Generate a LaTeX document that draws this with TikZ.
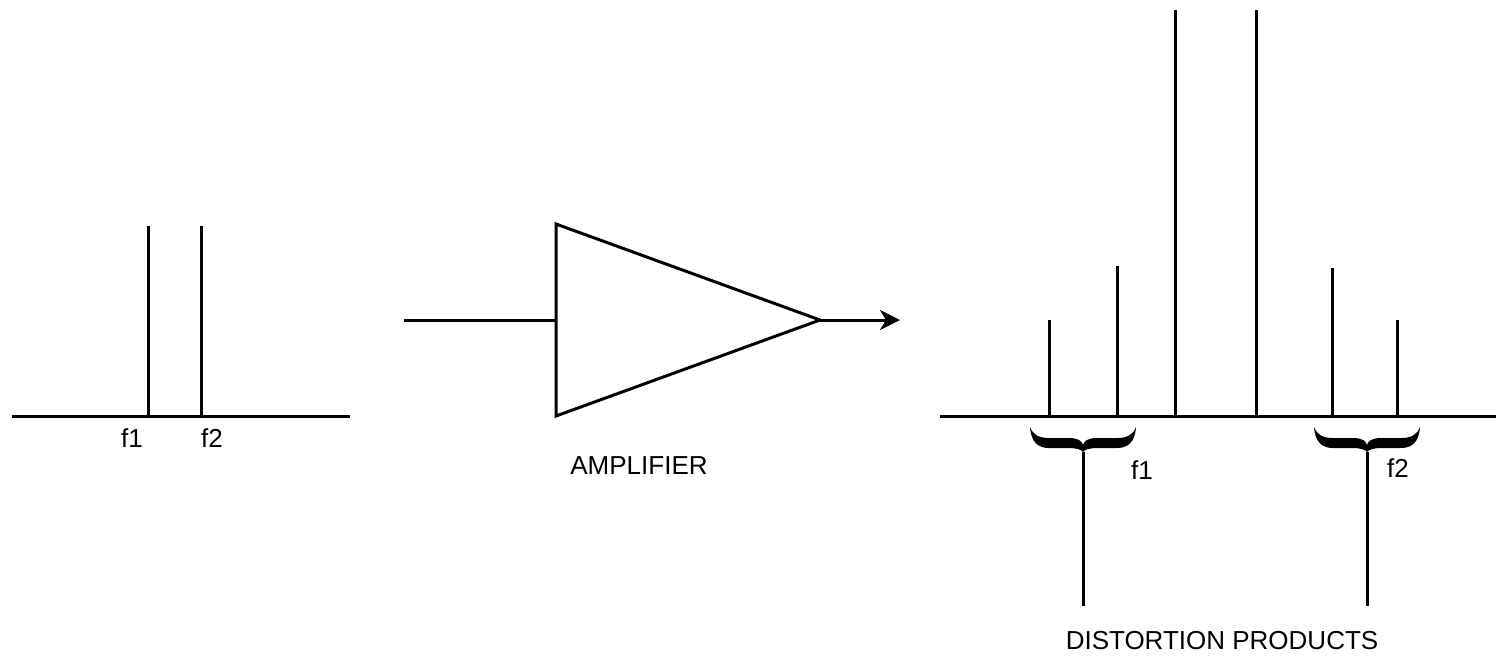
\documentclass[tikz,border=0pt]{standalone}
\usepackage{fontspec}
\setmainfont{Liberation Sans}
\usetikzlibrary{arrows.meta}
\tikzset{
  wire/.style={line width=3pt, line cap=butt},
  lbl/.style={inner sep=0pt, font=\fontsize{26}{30}\selectfont},
  pics/bigbrace/.style={code={
    \fill[black]
      (-53,-25) .. controls (-52,-10) and (-45,-4) .. (-34,-4)
      -- (-14,-4) .. controls (-6,-4) and (-1,-2) .. (0,0)
      .. controls (1,-2) and (6,-4) .. (14,-4)
      -- (34,-4) .. controls (45,-4) and (52,-10) .. (53,-25)
      .. controls (50,-17) and (44,-14) .. (34,-14)
      -- (14,-14) .. controls (5,-14) and (1,-11) .. (0,-7)
      .. controls (-1,-11) and (-5,-14) .. (-14,-14)
      -- (-34,-14) .. controls (-44,-14) and (-50,-17) .. (-53,-25) -- cycle;
  }}
}
\begin{document}
\begin{tikzpicture}[x=1pt, y=-1pt]
  \useasboundingbox (0,0) rectangle (1496,657);

  % input spectrum
  \coordinate (inL) at (12,416);
  \coordinate (inR) at (350,416);
  \coordinate (a1b) at (148,416);  \coordinate (a1t) at (148,226);
  \coordinate (a2b) at (201,416);  \coordinate (a2t) at (201,226);
  \draw[wire] (inL) -- (inR);
  \draw[wire] (a1b) -- (a1t);
  \draw[wire] (a2b) -- (a2t);
  \node[lbl] (f1in) at (132,438) {f1};
  \node[lbl] (f2in) at (212,438) {f2};

  % amplifier
  \coordinate (tA) at (556,224);
  \coordinate (tB) at (556,416);
  \coordinate (tC) at (820,320);
  \coordinate (tIn) at (556,320);
  \coordinate (src) at (404,320);
  \coordinate (dst) at (900,320);
  \draw[wire, line join=miter] (tA) -- (tC) -- (tB) -- cycle;
  \draw[wire] (src) -- (tIn);
  \draw[wire, -{Stealth[length=20pt, width=20pt, inset=6pt]}] (tC) -- (dst);
  \node[lbl] (amp) at (639,466) {AMPLIFIER};

  % output spectrum
  \coordinate (outL) at (940,416);
  \coordinate (outR) at (1496,416);
  \draw[wire] (outL) -- (outR);
  \foreach \n/\x/\y in {b1/1049/320, b2/1117/266, b3/1175/10,
                        b4/1256/10, b5/1332/268, b6/1397/320} {
    \coordinate (\n b) at (\x,416);
    \coordinate (\n t) at (\x,\y);
    \draw[wire] (\n b) -- (\n t);
  }

  % distortion product groups
  \coordinate (g1) at (1083,452);
  \coordinate (g1e) at (1083,606);
  \coordinate (g2) at (1367,452);
  \coordinate (g2e) at (1367,606);
  \pic at (g1) {bigbrace};
  \pic at (g2) {bigbrace};
  \draw[wire] (g1) -- (g1e);
  \draw[wire] (g2) -- (g2e);
  \node[lbl] (f1out) at (1142,470) {f1};
  \node[lbl] (f2out) at (1398,468) {f2};
  \node[lbl] (dp) at (1222,641) {DISTORTION PRODUCTS};
\end{tikzpicture}
\end{document}
